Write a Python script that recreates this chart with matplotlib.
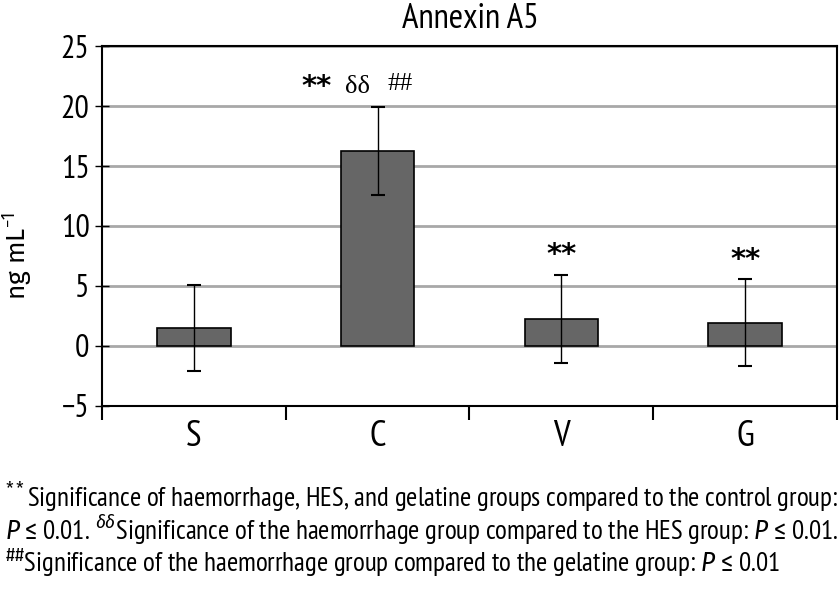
import matplotlib
matplotlib.use("Agg")
from matplotlib import pyplot as plt

# Data
groups = ['S', 'C', 'V', 'G']
means = [1.5, 16.25, 2.25, 1.95]
sds = [3.6, 3.7, 3.7, 3.6]
yticks = [-5, 0, 5, 10, 15, 20, 25]

notes = [
    "$^{**}$Significance of haemorrhage, HES, and gelatine groups compared to the control group:",
    "$P$ $\u2264$ 0.01. $^{\u03b4\u03b4}$Significance of the haemorrhage group compared to the HES group: $P$ $\u2264$ 0.01.",
    "$^{\\#\\#}$Significance of the haemorrhage group compared to the gelatine group: $P$ $\u2264$ 0.01",
]

narrow = ['PT Sans Narrow', 'Fira Sans Condensed', 'DejaVu Sans']
plt.rcParams['font.family'] = narrow
plt.rcParams['mathtext.fontset'] = 'custom'
plt.rcParams['mathtext.rm'] = 'Fira Sans Condensed'
plt.rcParams['mathtext.it'] = 'Fira Sans Condensed:italic'
plt.rcParams['mathtext.bf'] = 'Fira Sans Condensed:bold'

fig = plt.figure(figsize=(8.4, 5.9), dpi=100)
ax = fig.add_axes([0.1214, 0.3119, 0.8750, 0.6101])

x = list(range(len(groups)))
ax.bar(x, means, width=0.4, color='#666666', edgecolor='black', linewidth=1.2, zorder=3)
ax.errorbar(x, means, yerr=sds, fmt='none', ecolor='black', elinewidth=1,
            capsize=5, capthick=1.5, zorder=4)

ax.set_xlim(-0.5, len(groups) - 0.5)
ax.set_ylim(-5, 25)
ax.set_yticks(yticks)
ax.set_yticklabels([str(t).replace('-', '\u2212') for t in yticks], fontsize=23)
ax.yaxis.grid(True, color='#a8a8a8', linewidth=2)
ax.set_axisbelow(True)

# category labels between the boundary ticks
ax.set_xticks([i - 0.5 for i in range(len(groups) + 1)])
ax.set_xticklabels([])
ax.set_xticks(x, minor=True)
ax.set_xticklabels(groups, minor=True, fontsize=26)
ax.tick_params(axis='x', which='major', direction='out', length=10, width=1.5)
ax.tick_params(axis='x', which='minor', length=0, pad=10)
ax.tick_params(axis='y', direction='inout', length=10, width=1, pad=4)
for s in ax.spines.values():
    s.set_linewidth(1.5)

# significance marks
ax.text(x[1] - 0.33, means[1] + sds[1] + 1.6, '**', ha='center', va='center',
        fontsize=21, fontweight='bold', family='DejaVu Sans')
ax.text(x[1] - 0.11, means[1] + sds[1] + 1.6, '\u03b4\u03b4', ha='center', va='center',
        fontsize=19, family=['Liberation Serif', 'DejaVu Serif'])
ax.text(x[1] + 0.125, means[1] + sds[1] + 1.9, '##', ha='center', va='center',
        fontsize=18, family=['Liberation Serif', 'DejaVu Serif'])
for i in (2, 3):
    ax.text(x[i], means[i] + sds[i] + 1.6, '**', ha='center', va='center',
            fontsize=21, fontweight='bold', family='DejaVu Sans')

fig.text(0.56, 1 - 19 / 590, 'Annexin A5', ha='center', va='center', fontsize=25)
fig.text(18 / 840, 1 - 256 / 590, 'ng mL$^{-1}$', rotation=90, ha='center', va='center',
         fontsize=19, family=['Fira Sans', 'DejaVu Sans'])

for k, line in enumerate(notes):
    fig.text(5 / 840, 1 - (497 + 33 * k) / 590, line, ha='left', va='center', fontsize=19.5)

fig.savefig('out.png', dpi=100)
